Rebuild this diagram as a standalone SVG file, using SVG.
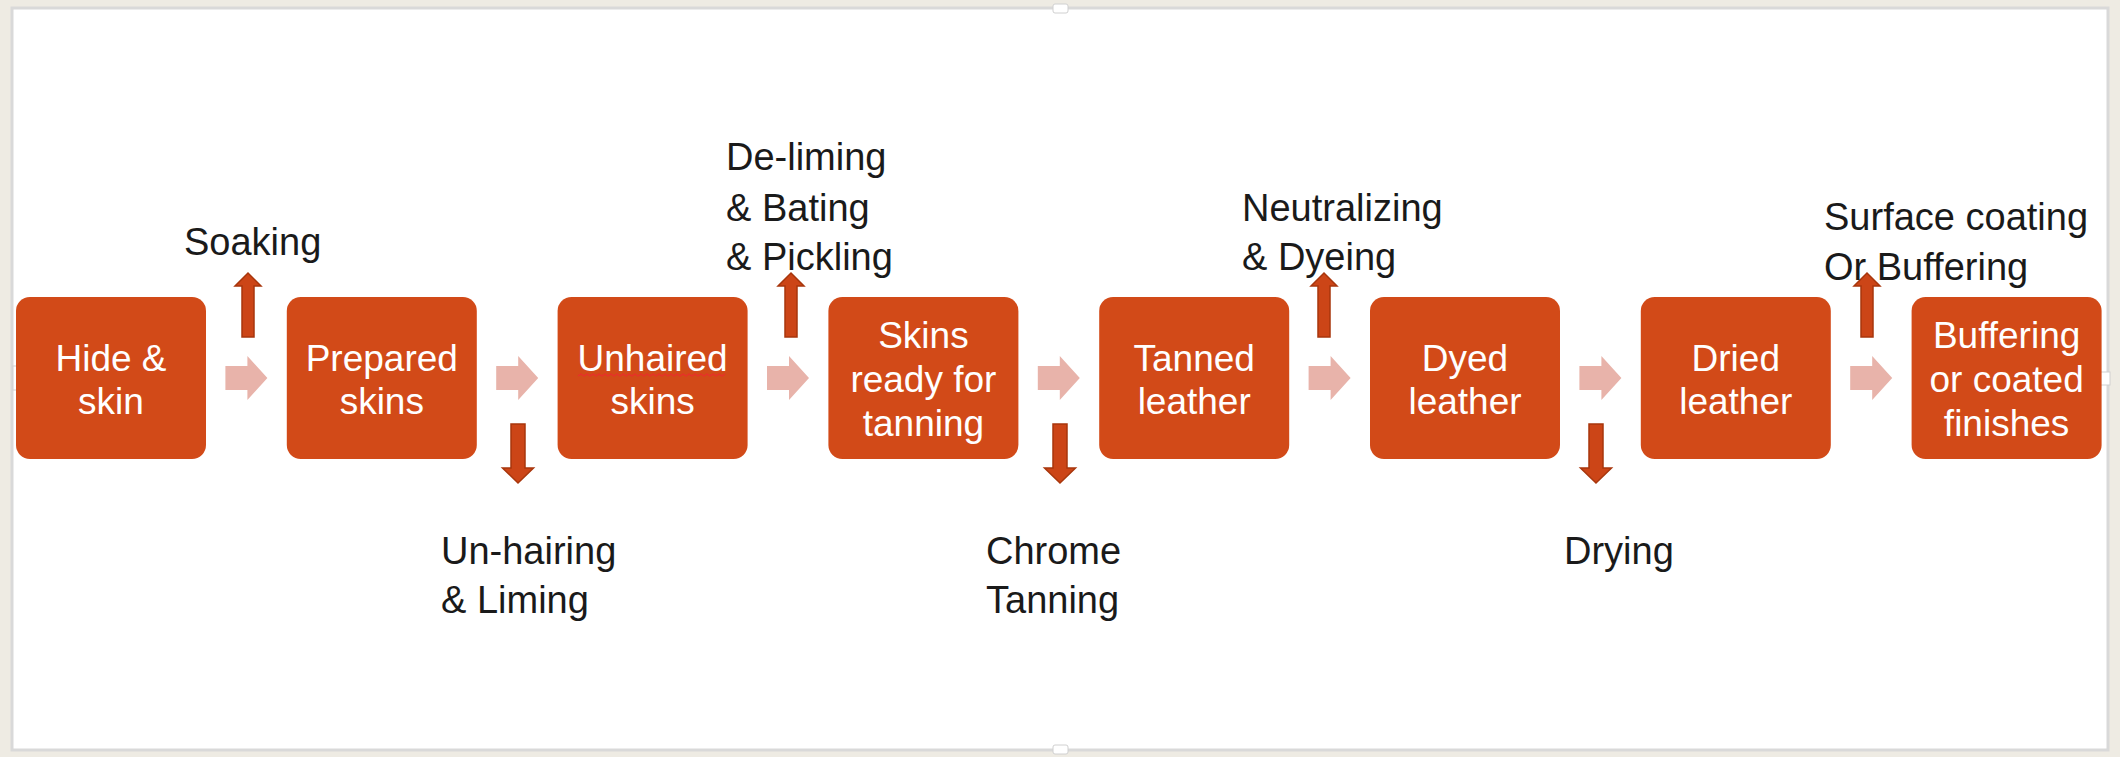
<svg xmlns="http://www.w3.org/2000/svg" width="2120" height="757" viewBox="0 0 2120 757">
  <style>
    .box { fill: #D24A18; }
    .bt { font-family: "Liberation Sans", Arial, sans-serif; font-size: 37px; fill: #ffffff; text-anchor: middle; }
    .lbl { font-family: "Liberation Sans", Arial, sans-serif; font-size: 38px; fill: #1a1a1a; }
    .flow { fill: #E8B3AA; }
    .step { fill: #CC4517; stroke: #A8360C; stroke-width: 1.5; }
    .handle { fill: #ffffff; stroke: #d0d0d0; stroke-width: 1; }
  </style>
  <defs>
    <path id="flowArrow" class="flow" d="M -21,-12 H 1 V -22 L 21,0 L 1,22 V 12 H -21 Z"/>
    <path id="upArrow" class="step" d="M -6,64 V 13 H -13 L 0,0 L 13,13 H 6 V 64 Z"/>
    <path id="downArrow" class="step" d="M -7,0 V 44 H -15.5 L 0,59 L 15.5,44 H 7 V 0 Z"/>
  </defs>

  <rect x="0" y="0" width="2120" height="757" fill="#EEEBE3"/>
  <rect x="12" y="8" width="2096" height="742" fill="#ffffff" stroke="#d9d9d9" stroke-width="3"/>
  <rect class="handle" x="1053" y="4" width="15" height="9" rx="2"/>
  <rect class="handle" x="1053" y="745" width="15" height="9" rx="2"/>
  <rect class="handle" x="13" y="366" width="14" height="24"/>
  <rect class="handle" x="2099" y="372" width="11" height="13"/>

  <g id="connectors">
    <use href="#flowArrow" x="246.4" y="378"/>
    <use href="#flowArrow" x="517.2" y="378"/>
    <use href="#flowArrow" x="788" y="378"/>
    <use href="#flowArrow" x="1058.8" y="378"/>
    <use href="#flowArrow" x="1329.6" y="378"/>
    <use href="#flowArrow" x="1600.4" y="378"/>
    <use href="#flowArrow" x="1871.2" y="378"/>
    <use href="#upArrow" x="248" y="273"/>
    <use href="#downArrow" x="518" y="424"/>
    <use href="#upArrow" x="791" y="273"/>
    <use href="#downArrow" x="1060" y="424"/>
    <use href="#upArrow" x="1324" y="273"/>
    <use href="#downArrow" x="1596" y="424"/>
    <use href="#upArrow" x="1867" y="273"/>
  </g>

  <g id="node-hide-skin">
    <rect class="box" x="16" y="297" width="190" height="162" rx="14"/>
    <text class="bt" x="111" y="371">Hide &amp;</text>
    <text class="bt" x="111" y="414">skin</text>
  </g>
  <g id="node-prepared-skins">
    <rect class="box" x="286.8" y="297" width="190" height="162" rx="14"/>
    <text class="bt" x="381.8" y="371">Prepared</text>
    <text class="bt" x="381.8" y="414">skins</text>
  </g>
  <g id="node-unhaired-skins">
    <rect class="box" x="557.6" y="297" width="190" height="162" rx="14"/>
    <text class="bt" x="652.6" y="371">Unhaired</text>
    <text class="bt" x="652.6" y="414">skins</text>
    <path d="M 578,376 l 3,-2 l 3,2 l 3,-2 l 3,2 l 3,-2 l 3,2 l 3,-2 l 3,2 l 3,-2 l 3,2 l 3,-2 l 3,2 l 3,-2 l 3,2 l 3,-2 l 3,2 l 3,-2 l 3,2 l 3,-2 l 3,2 l 3,-2 l 3,2 l 3,-2 l 3,2 l 3,-2 l 3,2 l 3,-2 l 3,2 l 3,-2 l 3,2 l 3,-2 l 3,2 l 3,-2 l 3,2 l 3,-2 l 3,2 l 3,-2 l 3,2 l 3,-2 l 3,2 l 3,-2 l 3,2 l 3,-2 l 3,2 l 3,-2 l 3,2 l 3,-2 l 3,2 l 3,-2" fill="none" stroke="#E8302A" stroke-width="1.3"/>
  </g>
  <g id="node-skins-ready">
    <rect class="box" x="828.4" y="297" width="190" height="162" rx="14"/>
    <text class="bt" x="923.4" y="348">Skins</text>
    <text class="bt" x="923.4" y="392">ready for</text>
    <text class="bt" x="923.4" y="436">tanning</text>
  </g>
  <g id="node-tanned-leather">
    <rect class="box" x="1099.2" y="297" width="190" height="162" rx="14"/>
    <text class="bt" x="1194.2" y="371">Tanned</text>
    <text class="bt" x="1194.2" y="414">leather</text>
  </g>
  <g id="node-dyed-leather">
    <rect class="box" x="1370" y="297" width="190" height="162" rx="14"/>
    <text class="bt" x="1465" y="371">Dyed</text>
    <text class="bt" x="1465" y="414">leather</text>
  </g>
  <g id="node-dried-leather">
    <rect class="box" x="1640.8" y="297" width="190" height="162" rx="14"/>
    <text class="bt" x="1735.8" y="371">Dried</text>
    <text class="bt" x="1735.8" y="414">leather</text>
  </g>
  <g id="node-buffering">
    <rect class="box" x="1911.6" y="297" width="190" height="162" rx="14"/>
    <text class="bt" x="2006.6" y="348">Buffering</text>
    <text class="bt" x="2006.6" y="392">or coated</text>
    <text class="bt" x="2006.6" y="436">finishes</text>
  </g>

  <g id="labels">
    <text class="lbl" x="184" y="255">Soaking</text>
    <text class="lbl" x="441" y="564">Un-hairing</text>
    <text class="lbl" x="441" y="613">&amp; Liming</text>
    <text class="lbl" x="726" y="170">De-liming</text>
    <text class="lbl" x="726" y="221">&amp; Bating</text>
    <text class="lbl" x="726" y="270">&amp; Pickling</text>
    <text class="lbl" x="986" y="564">Chrome</text>
    <text class="lbl" x="986" y="613">Tanning</text>
    <text class="lbl" x="1242" y="221">Neutralizing</text>
    <text class="lbl" x="1242" y="270">&amp; Dyeing</text>
    <text class="lbl" x="1564" y="564">Drying</text>
    <text class="lbl" x="1824" y="230">Surface coating</text>
    <text class="lbl" x="1824" y="280">Or Buffering</text>
  </g>
</svg>
